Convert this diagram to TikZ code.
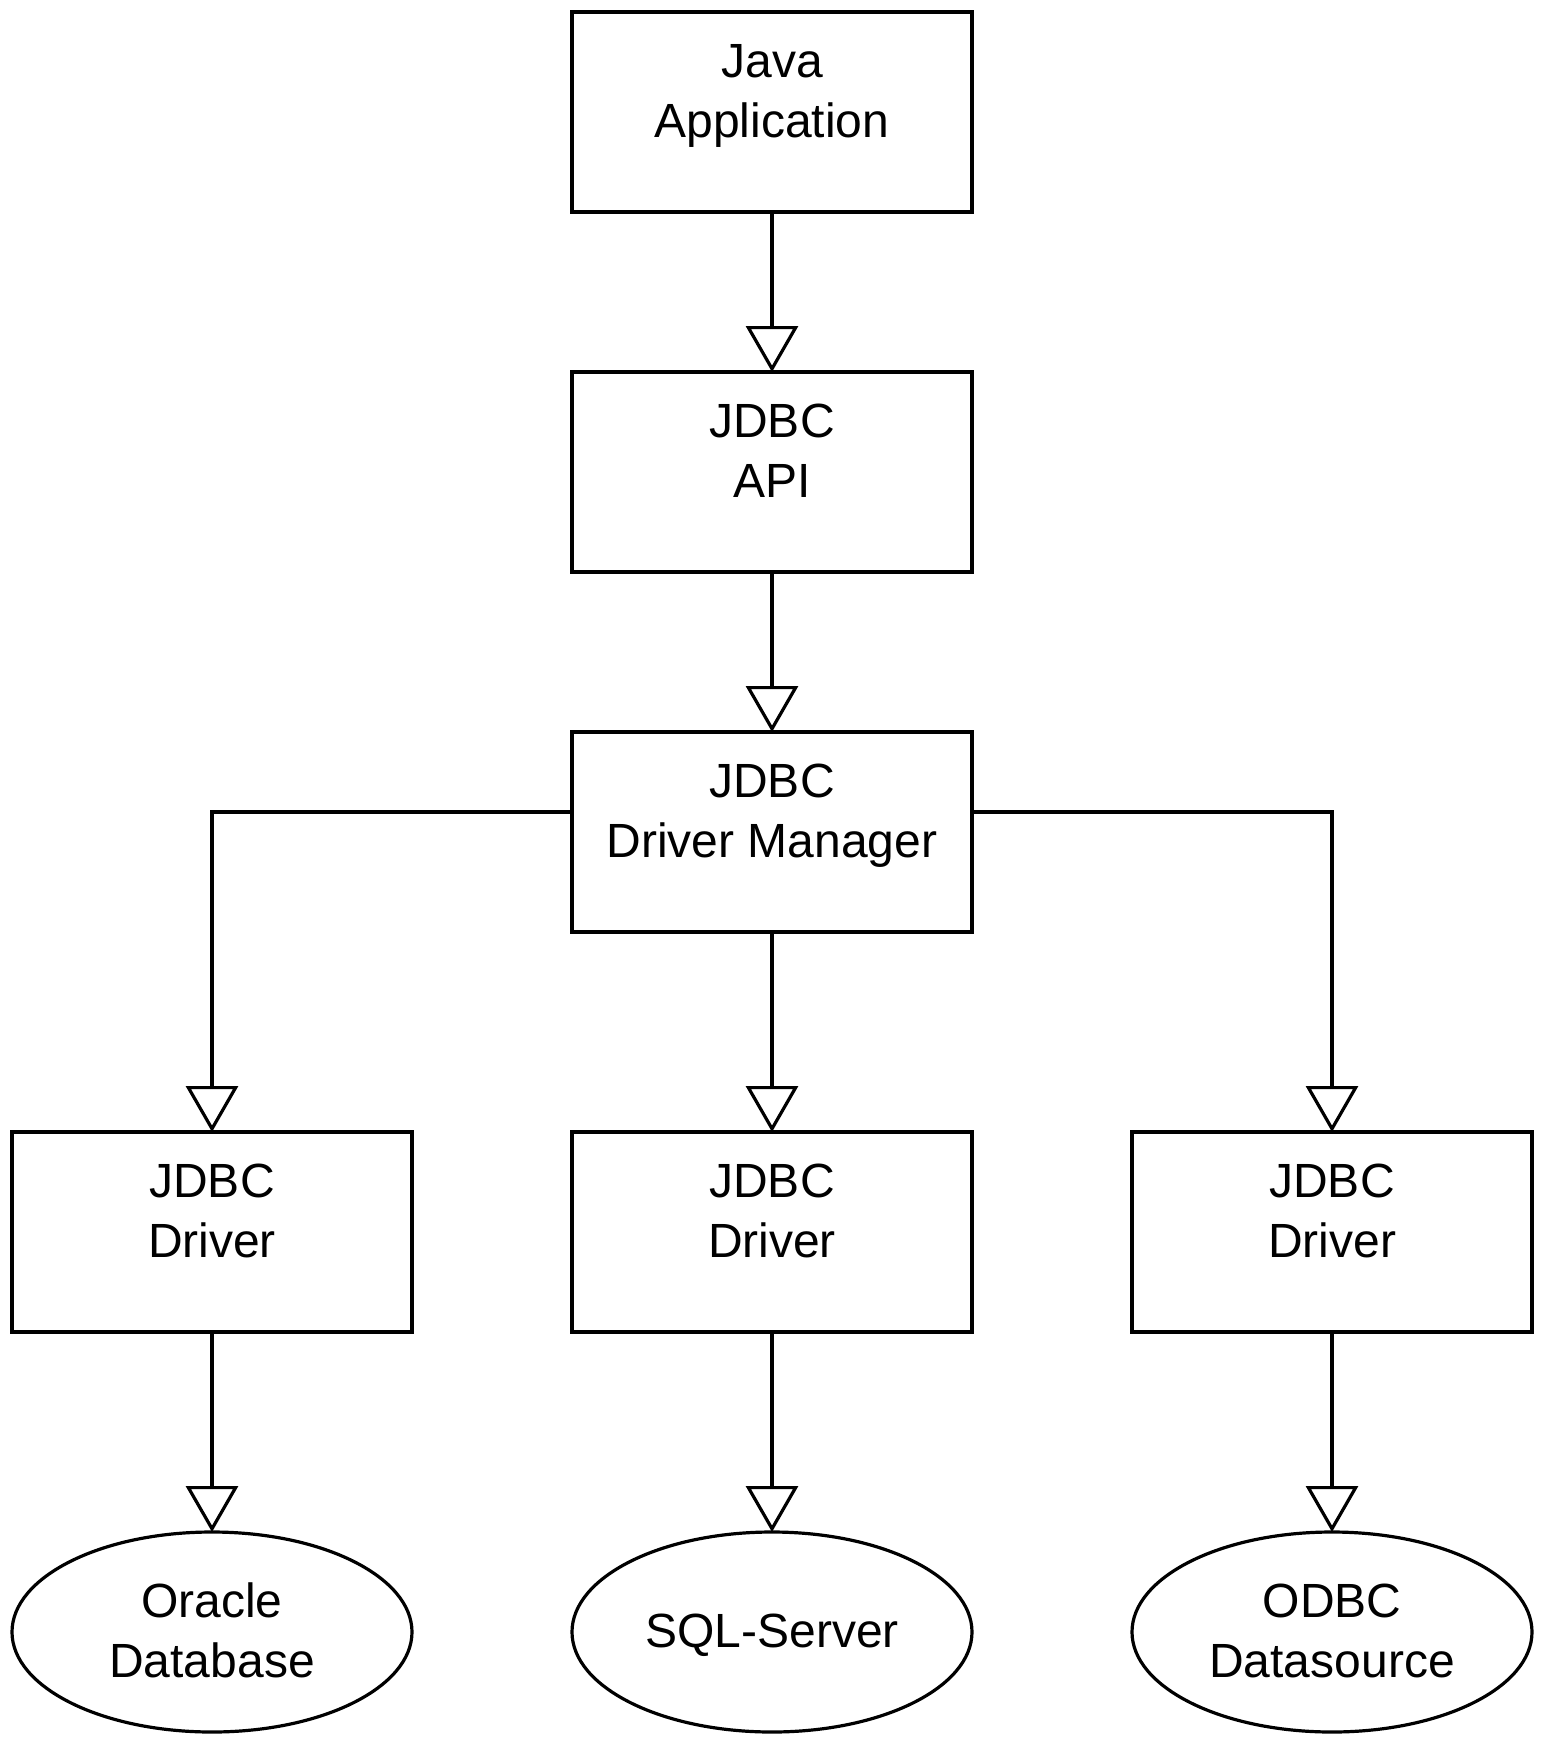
\documentclass[tikz,border=0pt]{standalone}
\usepackage{fontspec}
\setmainfont{Liberation Sans}
\usetikzlibrary{arrows.meta,shapes.geometric}
\newcommand\ls{\rule[-22pt]{0pt}{60pt}}
\begin{document}
\begin{tikzpicture}[x=1pt,y=-1pt,
  line width=3.2pt,
  boxnode/.style={draw,rectangle,minimum width=400pt,minimum height=200pt,inner sep=0pt,outer sep=0pt},
  ellnode/.style={draw,ellipse,minimum width=400pt,minimum height=200pt,inner sep=0pt,outer sep=0pt},
  lbl/.style={align=center,inner sep=0pt,font=\fontsize{48}{60}\selectfont},
  arr/.style={-{Triangle[open,length=46pt,width=52pt]}}]
\useasboundingbox (0,0) rectangle (1540,1740);
% boxes
\node[boxnode] (java) at (772,112) {};
\node[boxnode] (api)  at (772,472) {};
\node[boxnode] (dm)   at (772,832) {};
\node[boxnode] (drvL) at (212,1232) {};
\node[boxnode] (drvM) at (772,1232) {};
\node[boxnode] (drvR) at (1332,1232) {};
\node[ellnode] (ora) at (212,1632) {};
\node[ellnode] (sql) at (772,1632) {};
\node[ellnode] (odbc) at (1332,1632) {};
% labels
\node[lbl] (javaT) at ([yshift=13pt]java.center) {\ls Java\\\ls Application};
\node[lbl] (apiT) at ([yshift=13pt]api.center) {\ls JDBC\\\ls API};
\node[lbl] (dmT) at ([yshift=13pt]dm.center) {\ls JDBC\\\ls Driver Manager};
\node[lbl] (drvLT) at ([yshift=13pt]drvL.center) {\ls JDBC\\\ls Driver};
\node[lbl] (drvMT) at ([yshift=13pt]drvM.center) {\ls JDBC\\\ls Driver};
\node[lbl] (drvRT) at ([yshift=13pt]drvR.center) {\ls JDBC\\\ls Driver};
\node[lbl] (oraT) at ([yshift=-7.5pt]ora.center) {\ls Oracle\\\ls Database};
\node[lbl] (sqlT) at ([yshift=-7pt]sql.center) {\ls SQL-Server};
\node[lbl] (odbcT) at ([yshift=-7.5pt]odbc.center) {\ls ODBC\\\ls Datasource};
% connectors
\draw[arr] (java) -- (api);
\draw[arr] (api) -- (dm);
\draw[arr] (dm) -- (drvM);
\draw[arr] ([yshift=20pt]dm.west) -| (drvL);
\draw[arr] ([yshift=20pt]dm.east) -| (drvR);
\draw[arr] (drvL) -- (ora);
\draw[arr] (drvM) -- (sql);
\draw[arr] (drvR) -- (odbc);
\end{tikzpicture}
\end{document}
